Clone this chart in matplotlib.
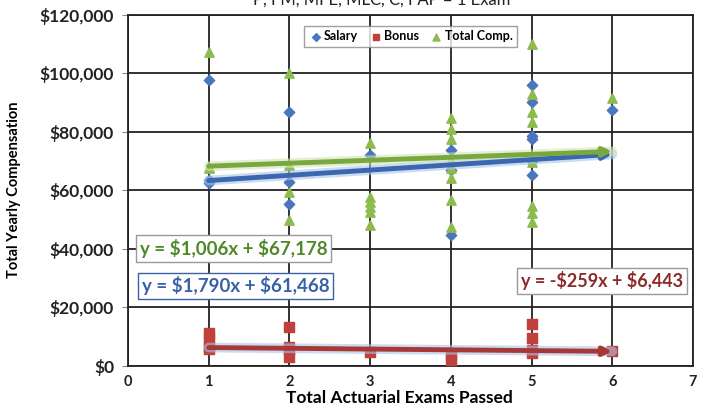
import matplotlib.pyplot as plt
import numpy as np
from matplotlib.ticker import FuncFormatter

plt.rcParams['font.family'] = ['Lato', 'DejaVu Sans']

# exams passed vs yearly pay
salary_x = [1, 1, 1, 2, 2, 2, 3, 4, 4, 4, 5, 5, 5, 5, 5, 5, 6]
salary_y = [97600, 63500, 62500, 86800, 62800, 55400, 72000, 73700, 67000, 44600,
            96000, 90000, 78500, 77500, 70000, 65000, 87400]

bonus_x = [1, 1, 1, 1, 2, 2, 2, 2, 3, 4, 4, 5, 5, 5, 5, 6]
bonus_y = [11000, 9300, 6400, 5600, 13300, 6400, 5300, 3000, 4700, 3600, 2100,
           14400, 9300, 5300, 4200, 5100]

total_x = [1, 1, 1, 2, 2, 2, 2, 3, 3, 3, 3, 3, 3,
           4, 4, 4, 4, 4, 4, 4, 4, 5, 5, 5, 5, 5, 5, 5, 5, 6]
total_y = [107300, 68000, 67500, 99900, 68500, 59400, 49700, 76000, 57700, 56000, 54300, 52600, 48000,
           84500, 80800, 77400, 70300, 67400, 64000, 56600, 47500,
           110000, 92800, 86800, 83400, 69700, 54600, 52300, 49200, 91400]

# trendline coefficients (slope, intercept) from the chart labels
salary_fit = (1790, 61468)
bonus_fit = (-259, 6443)
total_fit = (1006, 67178)

BLUE = '#4a76be'
RED = '#c0403c'
GREEN = '#8dbb4e'

fig = plt.figure(figsize=(7.13, 4.09), dpi=100)
ax = fig.add_axes([0.1795, 0.106, 0.7925, 0.8585])

ax.scatter(salary_x, salary_y, marker='D', s=28, color=BLUE, zorder=3, label='Salary')
ax.scatter(bonus_x, bonus_y, marker='s', s=45, color=RED, zorder=3, label='Bonus')
ax.scatter(total_x, total_y, marker='^', s=45, color=GREEN, zorder=4, label='Total Comp.')

xs = np.array([1, 6])
for (m, b), col, glow in [(bonus_fit, '#a83836', '#a9c3ea'),
                          (salary_fit, '#3b66b0', '#a9c3ea'),
                          (total_fit, '#79a83f', '#d2e4b6')]:
    ys = m * xs + b
    ax.plot(xs, ys, color=glow, lw=7, alpha=0.6, solid_capstyle='round', zorder=5)
    ax.annotate('', xy=(xs[1], ys[1]), xytext=(xs[0], ys[0]),
                arrowprops=dict(arrowstyle='-|>', color=col, lw=3.5,
                                mutation_scale=12, shrinkA=0, shrinkB=0),
                zorder=6)

ax.set_xlim(0, 7)
ax.set_ylim(0, 120000)
ax.set_xticks(range(8))
ax.set_yticks(range(0, 120001, 20000))
ax.yaxis.set_major_formatter(FuncFormatter(lambda v, p: '${:,.0f}'.format(v)))
ax.grid(True, color='#222222', lw=1.3)
ax.set_axisbelow(True)
for s in ax.spines.values():
    s.set_color('#222222')
    s.set_linewidth(1.3)
ax.tick_params(axis='y', labelsize=12.5, length=4, color='#888888', pad=6)
ax.tick_params(axis='x', labelsize=10.5, length=0, pad=7)
for t in ax.get_xticklabels() + ax.get_yticklabels():
    t.set_fontweight('bold')
    t.set_color('#222222')

ax.set_xlabel('Total Actuarial Exams Passed', fontsize=12.5, fontweight='bold')
ax.xaxis.set_label_coords(0.48, -0.068)
ax.set_ylabel('Total Yearly Compensation', fontsize=10.5, fontweight='bold')
ax.yaxis.set_label_coords(-0.19, 0.5)

fig.text(0.535, 1.0, 'P, FM, MFE, MLC, C, FAP = 1 Exam', ha='center', va='center',
         fontsize=12, color='#222222')

leg = ax.legend(loc='upper center', bbox_to_anchor=(0.5, 0.985), ncol=3, fontsize=9,
                frameon=True, fancybox=False, handletextpad=0.05, columnspacing=0.8,
                handlelength=1.2, borderpad=0.35, markerscale=0.75, edgecolor='#888888')
for t in leg.get_texts():
    t.set_fontweight('bold')

box = dict(boxstyle='square,pad=0.2', fc='white', ec='#999999', lw=1)
ax.text(0.15, 40000, r'y = \$1,006x + \$67,178', fontsize=13.5, fontweight='bold',
        color='#4f8a2a', va='center', bbox=box, zorder=7)
ax.text(0.17, 27300, r'y = \$1,790x + \$61,468', fontsize=13.5, fontweight='bold',
        color='#3a60a8', va='center',
        bbox=dict(boxstyle='square,pad=0.2', fc='white', ec='#3a60a8', lw=1), zorder=7)
ax.text(4.87, 29000, r'y = -\$259x + \$6,443', fontsize=13, fontweight='bold',
        color='#8b2a2a', va='center', bbox=box, zorder=7)

fig.savefig('out.png', dpi=100)
